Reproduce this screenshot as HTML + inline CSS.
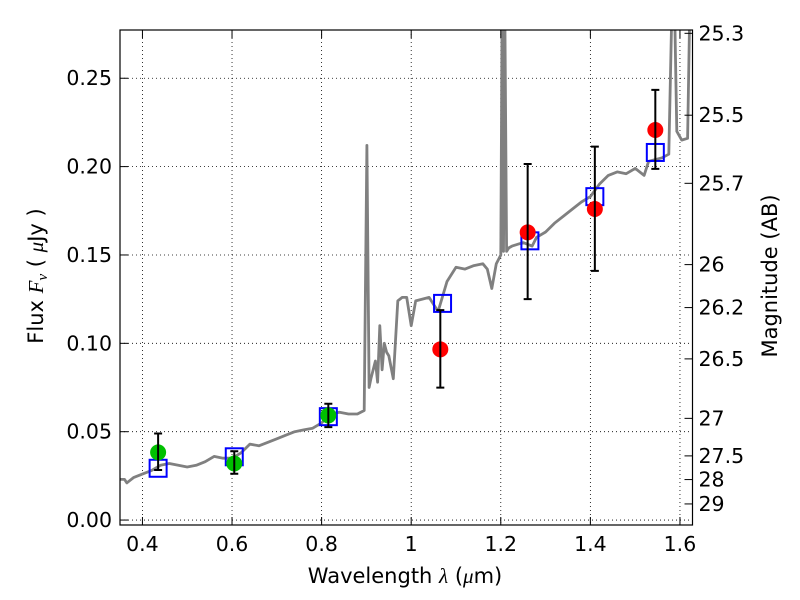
<!DOCTYPE html>
<html><head><meta charset="utf-8"><style>
body{margin:0;background:#fff}
svg{display:block;font-family:"DejaVu Sans","Liberation Sans",sans-serif}
</style></head><body>
<svg id="chart" width="800" height="600" viewBox="0 0 800 600" xmlns="http://www.w3.org/2000/svg">
<rect x="0" y="0" width="800" height="600" fill="#fff"/>
<g id="grid"></g>
<g id="spec"></g>
<g id="marks"></g>
<rect x="120" y="30" width="572.5" height="495" fill="none" stroke="#000" stroke-width="1.2"/>
<g id="ticks"></g>
<text x="405" y="583" text-anchor="middle" font-size="21">Wavelength  <tspan font-style="italic" font-family="Liberation Serif, serif">λ</tspan> (<tspan font-style="italic" font-family="Liberation Serif, serif">μ</tspan>m)</text>
<text transform="translate(43,276) rotate(-90)" text-anchor="middle" font-size="21">Flux  <tspan font-style="italic" font-family="Liberation Serif, serif">F<tspan font-size="15" dy="4">ν</tspan></tspan><tspan dy="-4">  (  </tspan><tspan font-style="italic" font-family="Liberation Serif, serif">μ</tspan>Jy )</text>
<text transform="translate(777,276) rotate(-90)" text-anchor="middle" font-size="21">Magnitude (AB)</text>
</svg>
<script>
const xTicks=[0.4,0.6,0.8,1.0,1.2,1.4,1.6];
const xTickLabels=["0.4","0.6","0.8","1","1.2","1.4","1.6"];
const yTicks=[0,0.05,0.10,0.15,0.20,0.25];
const yTickLabels=["0.00","0.05","0.10","0.15","0.20","0.25"];
const magTicks=[25.3,25.5,25.7,26,26.2,26.5,27,27.5,28,29];
const magTickLabels=["25.3","25.5","25.7","26","26.2","26.5","27","27.5","28","29"];
const specWave=[0.35,0.36,0.365,0.37,0.38,0.40,0.42,0.44,0.46,0.48,0.50,0.52,0.54,0.56,0.58,0.60,0.62,0.64,0.66,0.68,0.70,0.72,0.74,0.76,0.78,0.80,0.82,0.84,0.86,0.88,0.895,0.901,0.906,0.91,0.92,0.925,0.93,0.935,0.94,0.945,0.95,0.96,0.97,0.98,0.99,1.0,1.01,1.04,1.06,1.08,1.10,1.12,1.14,1.16,1.17,1.18,1.19,1.20,1.203,1.206,1.209,1.213,1.218,1.225,1.25,1.27,1.28,1.30,1.32,1.34,1.36,1.38,1.40,1.42,1.44,1.46,1.48,1.50,1.52,1.53,1.56,1.575,1.582,1.588,1.593,1.604,1.617,1.622,1.628];
const specFlux=[0.023,0.023,0.021,0.022,0.024,0.026,0.028,0.031,0.032,0.031,0.030,0.031,0.033,0.036,0.035,0.035,0.038,0.043,0.042,0.044,0.046,0.048,0.050,0.051,0.052,0.055,0.060,0.061,0.060,0.060,0.062,0.212,0.075,0.080,0.090,0.078,0.110,0.085,0.100,0.095,0.093,0.080,0.124,0.126,0.126,0.110,0.124,0.126,0.118,0.135,0.143,0.142,0.144,0.145,0.142,0.131,0.145,0.150,0.290,0.152,0.290,0.152,0.154,0.155,0.157,0.155,0.160,0.163,0.168,0.172,0.176,0.180,0.183,0.190,0.195,0.197,0.196,0.199,0.195,0.203,0.205,0.207,0.290,0.290,0.220,0.215,0.216,0.290,0.290];
const obsWave=[0.435,0.605,0.815,1.065,1.26,1.41,1.545];
const obsFlux=[0.0383,0.032,0.0592,0.0966,0.1628,0.176,0.2207];
const obsErrHi=[0.049,0.0389,0.0658,0.1188,0.2015,0.2113,0.2434];
const obsErrLo=[0.0283,0.0262,0.0526,0.0749,0.125,0.141,0.1987];
const obsColor=["#00c000","#00c000","#00c000","#ff0000","#ff0000","#ff0000","#ff0000"];
const modelWave=[0.435,0.605,0.815,1.07,1.265,1.41,1.545];
const modelFlux=[0.0293,0.0358,0.0585,0.1226,0.158,0.183,0.208];

const NS="http://www.w3.org/2000/svg";
const L=120,R=692.5,T=30,B=525;
const xmin=0.3499,xmax=1.628,ymin=-0.0028,ymax=0.2773;
const X=v=>L+(v-xmin)/(xmax-xmin)*(R-L);
const Y=v=>B-(v-ymin)/(ymax-ymin)*(B-T);
const magToFlux=m=>Math.pow(10,(23.9-m)/2.5);
function mk(tag,attrs,parent){const e=document.createElementNS(NS,tag);for(const k in attrs)e.setAttribute(k,attrs[k]);parent.appendChild(e);return e;}
const grid=document.getElementById('grid'),ticks=document.getElementById('ticks'),spec=document.getElementById('spec'),marks=document.getElementById('marks');
xTicks.forEach((v,i)=>{
  const g=mk('line',{x1:X(v),x2:X(v),y1:T,y2:B,stroke:'#000','stroke-width':0.8,'stroke-dasharray':'1,3'},grid);
  
  
  const t1=mk('line',{x1:X(v),x2:X(v),y1:B,y2:B-8,stroke:'#000','stroke-width':1},ticks);
  
  
  const t2=mk('line',{x1:X(v),x2:X(v),y1:T,y2:T+8,stroke:'#000','stroke-width':1},ticks);
  
  
  const tx=mk('text',{x:X(v),y:B+26,'text-anchor':'middle','font-size':20.5},ticks);
  tx.textContent=xTickLabels[i];
  
  
});
yTicks.forEach((v,i)=>{
  const g=mk('line',{x1:L,x2:R,y1:Y(v),y2:Y(v),stroke:'#000','stroke-width':0.8,'stroke-dasharray':'1,3'},grid);
  
  
  const t1=mk('line',{x1:L,x2:L+8,y1:Y(v),y2:Y(v),stroke:'#000','stroke-width':1},ticks);
  
  
  const tx=mk('text',{x:L-8,y:Y(v)+7,'text-anchor':'end','font-size':20.5},ticks);
  tx.textContent=yTickLabels[i];
  
  
});
magTicks.forEach((m,i)=>{
  const y=Y(magToFlux(m));
  const t1=mk('line',{x1:R,x2:R-8,y1:y,y2:y,stroke:'#000','stroke-width':1},ticks);
  
  
  const tx=mk('text',{x:R+6,y:y+7,'text-anchor':'start','font-size':20.5},ticks);
  tx.textContent=magTickLabels[i];
  
  
});
const cp=mk('clipPath',{id:'clip'},document.getElementById('chart'));
mk('rect',{x:L,y:T,width:R-L,height:B-T},cp);
spec.setAttribute('clip-path','url(#clip)');
let d='';specWave.forEach((w,i)=>{d+=(i?'L':'M')+X(w).toFixed(1)+','+Y(specFlux[i]).toFixed(1);});
const p=mk('path',{d:d,fill:'none',stroke:'#808080','stroke-width':2.8,'stroke-linejoin':'round'},spec);


modelWave.forEach((w,i)=>{
  const r=mk('rect',{x:X(w)-8.5,y:Y(modelFlux[i])-8.5,width:17,height:17,fill:'none',stroke:'#0000ff','stroke-width':2},marks);
  
  
});
obsWave.forEach((w,i)=>{
  const x=X(w),y1=Y(obsErrHi[i]),y2=Y(obsErrLo[i]);
  const c=mk('circle',{cx:x,cy:Y(obsFlux[i]),r:8,fill:obsColor[i]},marks);
  
  
  const e=mk('path',{d:`M${x},${y1}L${x},${y2}M${x-4},${y1}L${x+4},${y1}M${x-4},${y2}L${x+4},${y2}`,stroke:'#000','stroke-width':2,fill:'none'},marks);
  
  
});
</script>
</body></html>
